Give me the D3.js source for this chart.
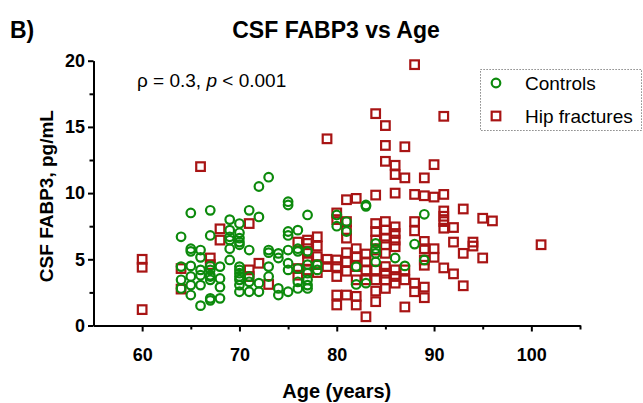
<!DOCTYPE html>
<html>
<head>
<meta charset="utf-8">
<script src="https://cdn.jsdelivr.net/npm/d3@7"></script>
<style>
  body { margin: 0; background: #fff; }
  text { font-family: "Liberation Sans", Arial, sans-serif; }
</style>
</head>
<body>
<div id="chart"></div>
<script>
// Data: [age, CSF FABP3 pg/mL]
const controls = [
  [64, 6.7], [64, 4.45], [64, 3.45], [64, 2.8],
  [65, 8.5], [65, 5.8], [65, 5.6], [65, 4.5], [65, 3.7], [65, 3.05], [65, 2.3],
  [66, 5.7], [66, 5.15], [66, 4.2], [66, 3.8], [66, 3.05], [66, 1.5],
  [67, 8.7], [67, 6.8], [67, 4.5], [67, 4.2], [67, 3.8], [67, 3.45], [67, 3.7], [67, 1.9], [67, 2.05],
  [68, 4.45], [68, 3.55], [68, 2.9], [68, 2.05],
  [69, 8.0], [69, 7.2], [69, 6.7], [69, 6.45], [69, 5.8], [69, 4.95],
  [70, 7.7], [70, 7.0], [70, 6.6], [70, 6.3], [70, 6.1], [70, 4.45], [70, 4.2], [70, 3.95], [70, 3.7], [70, 3.45], [70, 3.05], [70, 2.55],
  [71, 8.7], [71, 5.7], [71, 3.7], [71, 3.3], [71, 2.55],
  [72, 10.5], [72, 8.2], [72, 3.2], [72, 2.55],
  [73, 11.2], [73, 5.7], [73, 5.5], [73, 4.45], [73, 3.7],
  [74, 5.45], [74, 5.1], [74, 2.8], [74, 2.3],
  [75, 9.35], [75, 9.1], [75, 7.1], [75, 6.8], [75, 5.7], [75, 4.7], [75, 4.2], [75, 2.55],
  [76, 7.2], [76, 5.8], [76, 5.6], [76, 4.3], [76, 3.3], [76, 2.8],
  [77, 8.35], [77, 5.6], [77, 4.6], [77, 3.95], [77, 3.45], [77, 3.05], [77, 2.8],
  [78, 4.6], [78, 4.2],
  [80, 8.35], [80, 7.5],
  [81, 7.85], [81, 7.1],
  [82, 4.45], [82, 3.1],
  [83, 9.1], [83, 9.0], [83, 3.2],
  [84, 6.2], [84, 5.8], [84, 5.45], [84, 4.8],
  [86, 5.1], [87, 4.5], [88, 6.15],
  [89, 8.4], [89, 4.95]
]

const hipFractures = [
  [60, 5.0], [60, 4.4], [60, 1.2],
  [64, 4.3], [64, 2.75],
  [66, 12.0],
  [67, 5.1], [67, 4.6],
  [68, 7.3], [68, 6.45],
  [71, 7.7], [71, 4.2], [71, 3.7],
  [72, 4.7], [73, 3.1],
  [76, 6.3], [76, 4.3], [76, 3.8],
  [77, 6.45], [77, 6.2], [77, 5.6], [77, 5.45], [77, 4.9], [77, 4.2],
  [78, 6.7], [78, 6.0], [78, 5.2], [78, 4.6], [78, 4.0],
  [79, 14.1], [79, 5.0], [79, 4.45],
  [80, 8.5], [80, 8.0], [80, 4.95], [80, 4.45], [80, 3.7], [80, 2.3], [80, 1.55],
  [81, 9.5], [81, 7.85], [81, 7.2], [81, 6.6], [81, 5.5], [81, 4.8], [81, 4.1], [81, 2.3],
  [82, 9.6], [82, 5.8], [82, 5.2], [82, 4.45], [82, 3.45], [82, 2.2], [82, 1.55],
  [83, 5.4], [83, 4.8], [83, 4.2], [83, 3.45], [83, 0.66],
  [84, 16.0], [84, 9.85], [84, 7.7], [84, 7.1], [84, 6.45], [84, 5.7], [84, 4.2], [84, 3.45], [84, 2.6], [84, 1.8],
  [85, 15.1], [85, 13.6], [85, 12.4], [85, 7.85], [85, 7.2], [85, 6.6], [85, 6.1], [85, 5.45], [85, 4.45], [85, 3.95], [85, 3.45], [85, 2.8],
  [86, 12.1], [86, 11.4], [86, 10.0], [86, 7.45], [86, 6.95], [86, 6.45], [86, 5.95], [86, 4.2], [86, 3.7], [86, 3.2],
  [87, 13.5], [87, 11.15], [87, 4.2], [87, 3.45], [87, 1.4],
  [88, 19.7], [88, 9.9], [88, 7.85], [88, 7.15], [88, 3.2], [88, 2.55],
  [89, 11.15], [89, 9.8], [89, 6.35], [89, 5.8], [89, 4.95], [89, 4.55], [89, 2.9], [89, 2.1],
  [90, 12.15], [90, 9.7], [90, 5.8], [90, 5.15],
  [91, 15.8], [91, 9.9], [91, 8.65], [91, 8.25], [91, 7.85], [91, 7.35], [91, 4.35],
  [92, 7.4], [92, 6.3], [92, 3.9],
  [93, 8.8], [93, 5.45], [93, 3.0],
  [94, 6.3], [94, 6.0],
  [95, 8.1], [95, 5.1],
  [96, 7.9],
  [101, 6.1]
]

const seriesNames = ['Controls', 'Hip fractures']
const xTickValues = [60, 70, 80, 90, 100]
const xMinorTicks = [65, 75, 85, 95, 105]
const yTickValues = [0, 5, 10, 15, 20]
const yMinorTicks = [2.5, 7.5, 12.5, 17.5]

function draw() {
  const dimensions = {
    width: 643,
    height: 403,
    left: 93.5,
    right: 580,
    top: 60.7,
    bottom: 325.5,
  }
  const green = '#0c8a0c'
  const red = '#a81414'

  const svg = d3.select('#chart')
    .append('svg')
    .attr('width', dimensions.width)
    .attr('height', dimensions.height)

  // Scales
  const xScale = d3.scaleLinear()
    .domain([55, 105])
    .range([dimensions.left, dimensions.right])

  const yScale = d3.scaleLinear()
    .domain([0, 20])
    .range([dimensions.bottom, dimensions.top])

  // Axes
  const styleAxis = (g) => {
    g.selectAll('path, line').attr('stroke', '#000').attr('stroke-width', 2)
    g.selectAll('text')
      .attr('fill', '#000')
      .style('font-size', '18px')
      .style('font-weight', 'bold')
      .style('font-family', '"Liberation Sans", Arial, sans-serif')
  }

  svg.append('g')
    .attr('transform', `translate(0, ${dimensions.bottom})`)
    .call(d3.axisBottom(xScale).tickValues(xMinorTicks).tickSize(4).tickFormat('').tickSizeOuter(0))
    .call(styleAxis)

  svg.append('g')
    .attr('transform', `translate(0, ${dimensions.bottom})`)
    .call(d3.axisBottom(xScale).tickValues(xTickValues).tickSize(6).tickPadding(17).tickSizeOuter(0))
    .call(styleAxis)

  svg.append('g')
    .attr('transform', `translate(${dimensions.left}, 0)`)
    .call(d3.axisLeft(yScale).tickValues(yMinorTicks).tickSize(4).tickFormat('').tickSizeOuter(0))
    .call(styleAxis)

  svg.append('g')
    .attr('transform', `translate(${dimensions.left}, 0)`)
    .call(d3.axisLeft(yScale).tickValues(yTickValues).tickSize(5.5).tickPadding(3).tickSizeOuter(0))
    .call(styleAxis)

  // Points
  const squareSize = 8.6
  svg.append('g')
    .selectAll('rect')
    .data(hipFractures)
    .join('rect')
    .attr('x', d => xScale(d[0]) - squareSize / 2)
    .attr('y', d => yScale(d[1]) - squareSize / 2)
    .attr('width', squareSize)
    .attr('height', squareSize)
    .attr('fill', 'none')
    .attr('stroke', red)
    .attr('stroke-width', 2.2)

  svg.append('g')
    .selectAll('circle')
    .data(controls)
    .join('circle')
    .attr('cx', d => xScale(d[0]))
    .attr('cy', d => yScale(d[1]))
    .attr('r', 4.3)
    .attr('fill', 'none')
    .attr('stroke', green)
    .attr('stroke-width', 2.2)

  // Legend
  const legend = svg.append('g')
  legend.append('rect')
    .attr('x', 480.5)
    .attr('y', 69.5)
    .attr('width', 161)
    .attr('height', 61)
    .attr('fill', 'none')
    .attr('stroke', '#666')
    .attr('stroke-width', 1)
    .attr('stroke-dasharray', '1.2,1.8')

  legend.append('circle')
    .attr('cx', 496).attr('cy', 83)
    .attr('r', 4.3)
    .attr('fill', 'none').attr('stroke', green).attr('stroke-width', 2.2)

  legend.append('rect')
    .attr('x', 496 - squareSize / 2).attr('y', 116 - squareSize / 2)
    .attr('width', squareSize).attr('height', squareSize)
    .attr('fill', 'none').attr('stroke', red).attr('stroke-width', 2.2)

  legend.selectAll('text')
    .data(seriesNames)
    .join('text')
    .attr('x', 525)
    .attr('y', (d, i) => 90 + i * 33)
    .style('font-size', '19px')
    .text(d => d)

  // Annotation
  const stat = svg.append('text')
    .attr('x', 137)
    .attr('y', 87)
    .style('font-size', '19px')
  stat.append('tspan').text('ρ = 0.3, ')
  stat.append('tspan').style('font-style', 'italic').text('p')
  stat.append('tspan').text(' < 0.001')

  // Titles
  svg.append('text')
    .attr('x', 10)
    .attr('y', 38)
    .style('font-size', '23px')
    .style('font-weight', 'bold')
    .text('B)')

  svg.append('text')
    .attr('x', 336)
    .attr('y', 38)
    .attr('text-anchor', 'middle')
    .style('font-size', '23px')
    .style('font-weight', 'bold')
    .text('CSF FABP3 vs Age')

  svg.append('text')
    .attr('transform', `translate(53, ${(dimensions.top + dimensions.bottom) / 2 + 3}) rotate(-90)`)
    .attr('text-anchor', 'middle')
    .style('font-size', '19px')
    .style('font-weight', 'bold')
    .text('CSF FABP3, pg/mL')

  svg.append('text')
    .attr('x', (dimensions.left + dimensions.right) / 2)
    .attr('y', 398)
    .attr('text-anchor', 'middle')
    .style('font-size', '20px')
    .style('font-weight', 'bold')
    .text('Age (years)')
}

draw()
</script>
</body>
</html>
